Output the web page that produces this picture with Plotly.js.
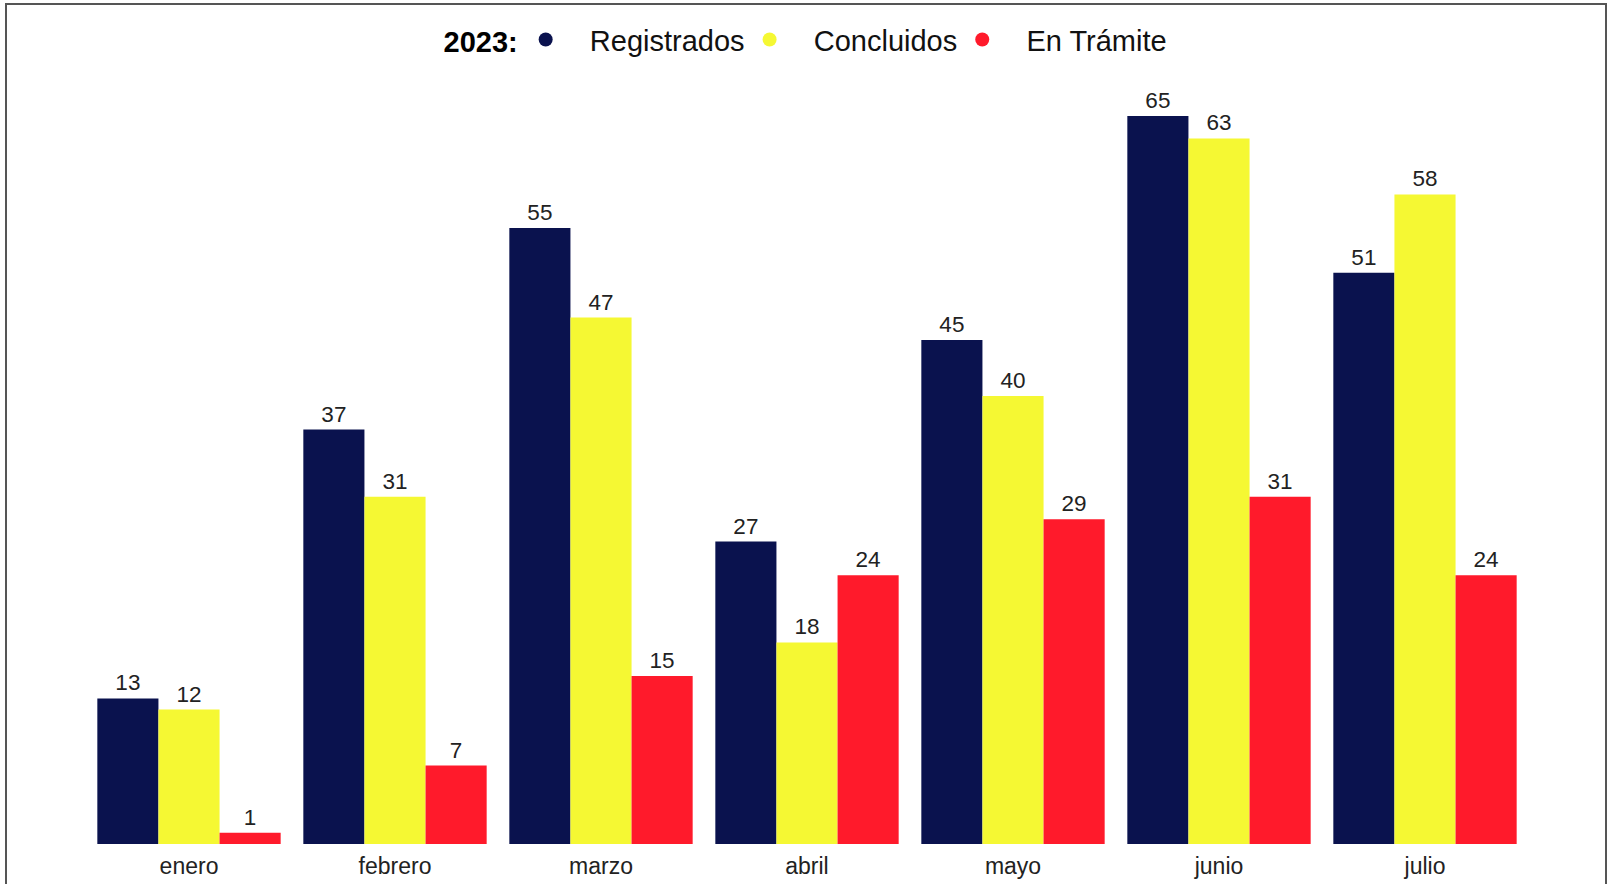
<!DOCTYPE html>
<html>
<head>
<meta charset="utf-8">
<script src="https://cdn.plot.ly/plotly-3.0.1.min.js"></script>
<style>
  html, body { margin: 0; padding: 0; background: #fff; }
  #chart { width: 1610px; height: 884px; }
  #frame { position: absolute; left: 5px; top: 3px; width: 1598px; height: 900px; border: 2px solid #555; pointer-events: none; }
</style>
</head>
<body>
<div id="chart"></div>
<div id="frame"></div>
<script>
const months = ["enero", "febrero", "marzo", "abril", "mayo", "junio", "julio"];
const registrados = [13, 37, 55, 27, 45, 65, 51];
const concluidos = [12, 31, 47, 18, 40, 63, 58];
const enTramite = [1, 7, 15, 24, 29, 31, 24];
const seriesNames = ["Registrados", "Concluidos", "En Trámite"];
const seriesColors = ["#0A124E", "#F5F833", "#FF1A2B"];
const legendTitle = "2023:";

const seriesValues = [registrados, concluidos, enTramite];
const pad = "\u00A0\u00A0\u00A0";
const traces = [];
seriesValues.forEach((vals, i) => {
  traces.push({
    type: "bar",
    x: months,
    y: vals,
    name: seriesNames[i],
    marker: { color: seriesColors[i] },
    text: vals.map(String),
    textposition: "outside",
    textfont: { family: "Arial, Liberation Sans, sans-serif", size: 22.5, color: "#222" },
    cliponaxis: false,
    showlegend: false,
    hoverinfo: "x+y+name"
  });
});
seriesValues.forEach((vals, i) => {
  traces.push({
    type: "scatter",
    mode: "markers",
    x: [null],
    y: [null],
    name: pad + seriesNames[i],
    marker: { color: seriesColors[i], size: 14, symbol: "circle" },
    showlegend: true
  });
});

const layout = {
  width: 1610,
  height: 884,
  margin: { l: 86, r: 82, t: 60, b: 40 },
  paper_bgcolor: "#fff",
  plot_bgcolor: "#fff",
  barmode: "group",
  bargap: 0.11,
  bargroupgap: 0,
  font: { family: "Arial, Liberation Sans, sans-serif", color: "#222" },
  xaxis: {
    type: "category",
    showgrid: false,
    zeroline: false,
    showline: false,
    ticks: "",
    tickfont: { size: 23, color: "#222" },
    ticklabelstandoff: 6,
    range: [-0.5, 6.5]
  },
  yaxis: {
    range: [0, 70],
    showgrid: false,
    zeroline: false,
    showticklabels: false,
    ticks: ""
  },
  legend: {
    orientation: "h",
    x: 0.5,
    xanchor: "center",
    y: 1.026,
    yanchor: "middle",
    title: { text: "<b>" + legendTitle + "</b>", font: { size: 29, color: "#000" }, side: "left" },
    font: { size: 29, color: "#111" },
    itemwidth: 30,
    tracegroupgap: 0
  }
};

Plotly.newPlot("chart", traces, layout, { displayModeBar: false });
</script>
</body>
</html>
